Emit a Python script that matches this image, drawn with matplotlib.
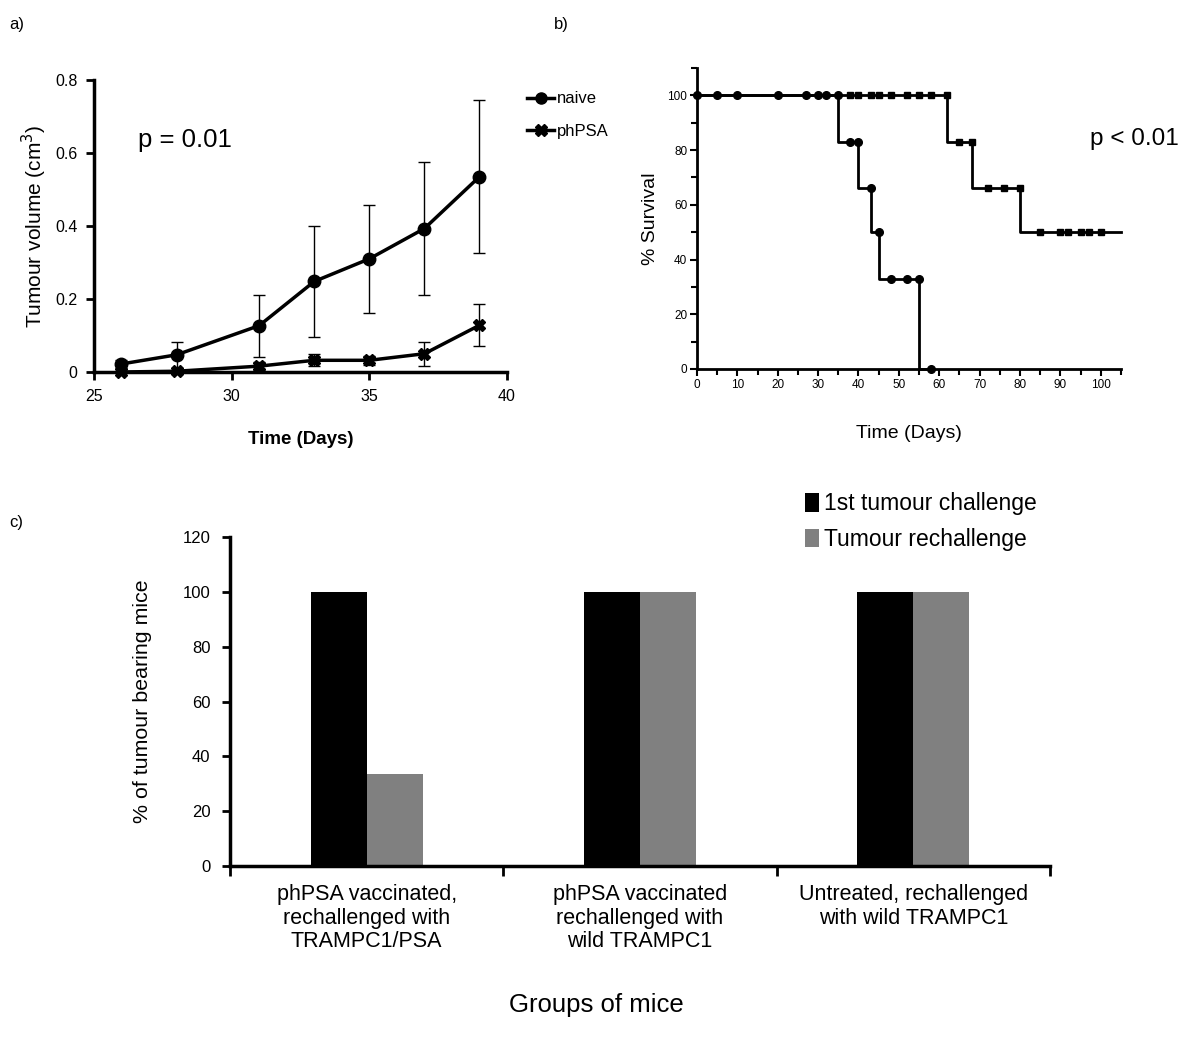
import numpy as np
import matplotlib.pyplot as plt
from matplotlib.lines import Line2D

# panel a: tumour growth
days_a = [26, 28, 31, 33, 35, 37, 39]
naive_vol = [0.022, 0.047, 0.127, 0.248, 0.310, 0.393, 0.535]
naive_err = [0.010, 0.036, 0.085, 0.152, 0.148, 0.182, 0.210]
phpsa_vol = [0.0, 0.002, 0.016, 0.032, 0.032, 0.050, 0.128]
phpsa_err = [0.0, 0.002, 0.010, 0.016, 0.012, 0.033, 0.058]

# panel b: survival (steps)
naive_step_t = [0, 35, 40, 43, 45, 55, 58]
naive_step_s = [100, 83, 66, 50, 33, 0, 0]
naive_mark_t = [0, 5, 10, 20, 27, 30, 32, 35, 38, 40, 43, 45, 48, 52, 55, 58]
naive_mark_s = [100, 100, 100, 100, 100, 100, 100, 100, 83, 83, 66, 50, 33, 33, 33, 0]
vacc_step_t = [0, 62, 68, 80, 105]
vacc_step_s = [100, 83, 66, 50, 50]
vacc_mark_t = [38, 40, 43, 45, 48, 52, 55, 58, 62, 65, 68, 72, 76, 80, 85, 90, 92, 95, 97, 100]
vacc_mark_s = [100, 100, 100, 100, 100, 100, 100, 100, 100, 83, 83, 66, 66, 66, 50, 50, 50, 50, 50, 50]

# panel c: rechallenge
groups = ["phPSA vaccinated,\nrechallenged with\nTRAMPC1/PSA",
          "phPSA vaccinated\nrechallenged with\nwild TRAMPC1",
          "Untreated, rechallenged\nwith wild TRAMPC1"]
first_challenge = [100, 100, 100]
rechallenge = [33.5, 100, 100]

plt.rcParams['font.family'] = ['Liberation Sans', 'DejaVu Sans']
fig = plt.figure(figsize=(12, 10.44), dpi=100)


def clean(ax, lw):
    for s in ['top', 'right']:
        ax.spines[s].set_visible(False)
    for s in ['left', 'bottom']:
        ax.spines[s].set_linewidth(lw)


# ---- a)
ax1 = fig.add_axes([0.0783, 0.6437, 0.3442, 0.2797])
clean(ax1, 2.5)
ax1.errorbar(days_a, naive_vol, yerr=naive_err, color='black', lw=2.5, marker='o',
             ms=9, ecolor='black', elinewidth=1, capsize=4, capthick=1, clip_on=False)
ax1.errorbar(days_a, phpsa_vol, yerr=phpsa_err, color='black', lw=2.5, marker='X',
             ms=9, ecolor='black', elinewidth=1, capsize=4, capthick=1, clip_on=False)
ax1.set_xlim(25, 40)
ax1.set_ylim(0, 0.8)
ax1.set_xticks([25, 30, 35, 40])
ax1.set_yticks([0, 0.2, 0.4, 0.6, 0.8])
ax1.set_yticklabels(['0', '0.2', '0.4', '0.6', '0.8'])
ax1.tick_params(width=2, length=6, labelsize=11.5, pad=6)
ax1.set_xlabel('Time (Days)', fontsize=13.5, fontweight='bold', labelpad=20)
ax1.set_ylabel('Tumour volume (cm$^3$)', fontsize=15, labelpad=4)
ax1.text(0.1065, 0.795, 'p = 0.01', transform=ax1.transAxes, fontsize=18.5, va='center')
h_naive = Line2D([], [], color='black', lw=2.5, marker='o', ms=8)
h_phpsa = Line2D([], [], color='black', lw=2.5, marker='X', ms=8)
fig.legend([h_naive, h_phpsa], ['naive', 'phPSA'], loc='upper left',
           bbox_to_anchor=(519 / 1200, 1 - 83 / 1044), frameon=False, borderpad=0,
           handlelength=1.6, handletextpad=0.15, labelspacing=1.05, fontsize=12)

# ---- b)
ax2 = fig.add_axes([0.5808, 0.6466, 0.3533, 0.2883])
clean(ax2, 2)
ax2.plot(naive_step_t, naive_step_s, drawstyle='steps-post', color='black', lw=2, clip_on=False)
ax2.plot(vacc_step_t, vacc_step_s, drawstyle='steps-post', color='black', lw=2, clip_on=False)
ax2.plot(naive_mark_t, naive_mark_s, 'o', color='black', ms=5.5, clip_on=False)
ax2.plot(vacc_mark_t, vacc_mark_s, 's', color='black', ms=5, clip_on=False)
ax2.set_xlim(0, 105)
ax2.set_ylim(0, 110)
ax2.set_xticks(np.arange(0, 101, 10))
ax2.set_xticks(np.arange(5, 106, 10), minor=True)
ax2.set_yticks(np.arange(0, 101, 20))
ax2.set_yticks(np.arange(10, 111, 20), minor=True)
ax2.tick_params(which='major', width=1.5, length=5, labelsize=8.5, pad=2)
ax2.tick_params(which='minor', width=1.5, length=4)
ax2.set_xlabel('Time (Days)', fontsize=14, labelpad=25)
ax2.set_ylabel('% Survival', fontsize=14, labelpad=6)
ax2.text(0.927, 0.765, 'p < 0.01', transform=ax2.transAxes, fontsize=17.5, va='center')

# ---- c)
ax3 = fig.add_axes([0.1917, 0.1705, 0.6833, 0.3151])
clean(ax3, 2.5)
centers = np.arange(len(groups)) + 0.5
w = 0.205
ax3.bar(centers - w / 2, first_challenge, width=w, color='black', label='1st tumour challenge')
ax3.bar(centers + w / 2, rechallenge, width=w, color='#808080', label='Tumour rechallenge')
ax3.set_xlim(0, 3)
ax3.set_ylim(0, 120)
ax3.set_yticks(np.arange(0, 121, 20))
ax3.set_xticks([0, 1, 2, 3])
ax3.set_xticklabels([])
ax3.set_xticks(centers, minor=True)
ax3.set_xticklabels(groups, minor=True, fontsize=15.5, linespacing=1.17)
ax3.tick_params(axis='x', which='minor', length=0, pad=13)
ax3.tick_params(axis='x', which='major', width=2, length=7)
ax3.tick_params(axis='y', width=2, length=6, labelsize=12, pad=8)
ax3.set_ylabel('% of tumour bearing mice', fontsize=15.4, labelpad=22)
fig.text(596 / 1200, 1 - 1005 / 1044, 'Groups of mice', fontsize=18.5, ha='center', va='center')
fig.legend(*ax3.get_legend_handles_labels(), loc='upper left',
           bbox_to_anchor=(794 / 1200, 1 - 481 / 1044), frameon=False, borderpad=0,
           handlelength=0.6, handleheight=0.85, handletextpad=0.2,
           labelspacing=0.55, fontsize=16.5)

# panel letters
fig.text(0.008, 0.972, 'a)', fontsize=12)
fig.text(0.462, 0.972, 'b)', fontsize=12)
fig.text(0.008, 0.495, 'c)', fontsize=12)

fig.savefig('out.png', dpi=100)
